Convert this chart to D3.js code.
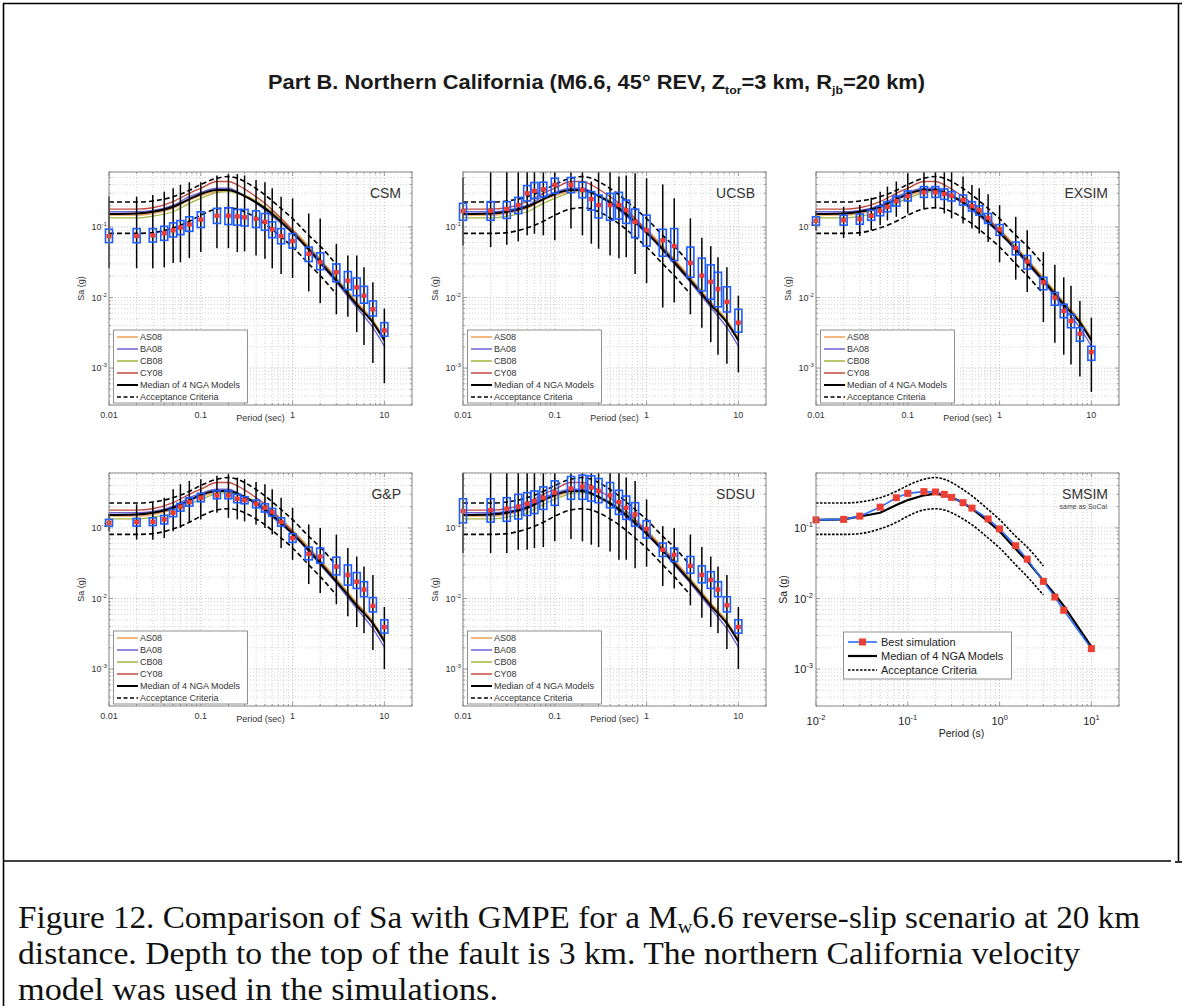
<!DOCTYPE html>
<html>
<head>
<meta charset="utf-8">
<script src="https://cdn.jsdelivr.net/npm/d3@7"></script>
<style>
  body { margin: 0; background: #fff; }
  svg { display: block; }
  text { font-family: "Liberation Sans", Arial, Helvetica, sans-serif; }
</style>
</head>
<body>
<svg id="fig" width="1182" height="1006"></svg>
<script>
// periods of the simulated boxes (s)
const periods = [0.01, 0.02, 0.03, 0.04, 0.05, 0.06, 0.075, 0.1, 0.15, 0.2, 0.25, 0.3, 0.4, 0.5, 0.6, 0.75, 1, 1.5, 2, 3, 4, 5, 6, 7.5, 10];

// each row: [whisker low, box low, median, box high, whisker high] in g
const csmStats = [
  [0.026, 0.060, 0.074, 0.093, 0.27], [0.026, 0.0597, 0.0743, 0.0947, 0.268], [0.026, 0.061, 0.076, 0.0947, 0.283],
  [0.0268, 0.0645, 0.0812, 0.102, 0.316], [0.0309, 0.072, 0.0896, 0.114, 0.353], [0.0316, 0.0777, 0.098, 0.123, 0.394],
  [0.0361, 0.0867, 0.108, 0.139, 0.43], [0.044, 0.098, 0.127, 0.164, 0.43], [0.050, 0.112, 0.144, 0.183, 0.535],
  [0.050, 0.108, 0.144, 0.187, 0.56], [0.044, 0.106, 0.141, 0.177, 0.56], [0.045, 0.103, 0.137, 0.177, 0.535],
  [0.0394, 0.098, 0.130, 0.169, 0.464], [0.0353, 0.0896, 0.118, 0.155, 0.43], [0.026, 0.0704, 0.0926, 0.118, 0.353],
  [0.0216, 0.0578, 0.0743, 0.0947, 0.268], [0.0189, 0.0501, 0.063, 0.0804, 0.254], [0.0122, 0.0323, 0.0416, 0.0518, 0.155],
  [0.0083, 0.0248, 0.0316, 0.043, 0.132], [0.00578, 0.0167, 0.0228, 0.0299, 0.0578], [0.00535, 0.0129, 0.0173, 0.0233, 0.0394],
  [0.00323, 0.0106, 0.0139, 0.0189, 0.0394], [0.00213, 0.0083, 0.0106, 0.0144, 0.0268], [0.00118, 0.00547, 0.00681, 0.00896, 0.0164],
  [0.00061, 0.00283, 0.00341, 0.0044, 0.00697]
];
const ucsbStats = [
  [0.0547, 0.124, 0.168, 0.216, 0.5], [0.0518, 0.124, 0.169, 0.228, 0.7], [0.056, 0.132, 0.179, 0.228, 0.7],
  [0.0624, 0.155, 0.204, 0.262, 0.7], [0.076, 0.233, 0.299, 0.385, 0.7], [0.080, 0.254, 0.323, 0.425, 0.7],
  [0.076, 0.268, 0.341, 0.43, 0.7], [0.0645, 0.299, 0.394, 0.49, 0.7], [0.0947, 0.306, 0.394, 0.501, 0.7],
  [0.076, 0.259, 0.334, 0.43, 0.7], [0.0578, 0.173, 0.248, 0.316, 0.44], [0.049, 0.134, 0.204, 0.283, 0.7],
  [0.0394, 0.124, 0.204, 0.299, 0.7], [0.0361, 0.129, 0.204, 0.309, 0.518], [0.0373, 0.112, 0.173, 0.240, 0.535],
  [0.0216, 0.0704, 0.118, 0.179, 0.578], [0.016, 0.0535, 0.0896, 0.147, 0.49], [0.0072, 0.0385, 0.0645, 0.0926, 0.40],
  [0.0085, 0.0334, 0.0535, 0.0947, 0.254], [0.00578, 0.0193, 0.0309, 0.0518, 0.132], [0.00373, 0.0124, 0.0204, 0.0361, 0.0704],
  [0.00233, 0.00947, 0.0167, 0.029, 0.0535], [0.00155, 0.00736, 0.0132, 0.0228, 0.0373], [0.00115, 0.00624, 0.00867, 0.0142, 0.0268],
  [0.00087, 0.00323, 0.0044, 0.00681, 0.0106]
];
const exsimStats = [
  [0.09, 0.106, 0.122, 0.139, 0.17], [0.0696, 0.106, 0.124, 0.147, 0.193], [0.0743, 0.109, 0.129, 0.152, 0.204],
  [0.0896, 0.124, 0.144, 0.173, 0.259], [0.106, 0.144, 0.169, 0.197, 0.316], [0.124, 0.164, 0.193, 0.228, 0.373],
  [0.139, 0.197, 0.233, 0.274, 0.44], [0.155, 0.233, 0.274, 0.323, 0.578], [0.183, 0.262, 0.309, 0.373, 0.7],
  [0.183, 0.262, 0.309, 0.373, 0.7], [0.155, 0.245, 0.293, 0.345, 0.7], [0.132, 0.233, 0.277, 0.316, 0.61],
  [0.112, 0.204, 0.24, 0.283, 0.518], [0.0947, 0.168, 0.197, 0.228, 0.394], [0.0804, 0.147, 0.173, 0.199, 0.353],
  [0.061, 0.112, 0.134, 0.155, 0.29], [0.0316, 0.076, 0.0926, 0.108, 0.204], [0.0179, 0.0403, 0.0501, 0.061, 0.139],
  [0.012, 0.0253, 0.0323, 0.0394, 0.0896], [0.00449, 0.0129, 0.0164, 0.0193, 0.044], [0.00228, 0.00777, 0.01, 0.0118, 0.029],
  [0.00155, 0.00518, 0.00645, 0.00803, 0.0193], [0.00112, 0.00373, 0.00464, 0.00578, 0.0147], [0.00076, 0.0024, 0.00306, 0.00373, 0.00896],
  [0.00046, 0.00129, 0.00169, 0.00204, 0.00518]
];
const gpStats = [
  [0.09, 0.106, 0.118, 0.132, 0.16], [0.0681, 0.106, 0.121, 0.136, 0.216], [0.0681, 0.108, 0.122, 0.139, 0.228],
  [0.072, 0.114, 0.132, 0.150, 0.268], [0.0896, 0.144, 0.164, 0.183, 0.353], [0.1, 0.173, 0.2, 0.223, 0.416],
  [0.118, 0.204, 0.233, 0.268, 0.464], [0.132, 0.235, 0.268, 0.309, 0.49], [0.164, 0.259, 0.29, 0.334, 0.547],
  [0.139, 0.259, 0.29, 0.334, 0.578], [0.132, 0.228, 0.259, 0.299, 0.518], [0.124, 0.22, 0.248, 0.277, 0.49],
  [0.112, 0.193, 0.22, 0.248, 0.449], [0.1, 0.168, 0.193, 0.22, 0.416], [0.0804, 0.147, 0.168, 0.189, 0.353],
  [0.0518, 0.106, 0.121, 0.139, 0.268], [0.0353, 0.0624, 0.072, 0.083, 0.193], [0.016, 0.0353, 0.043, 0.0535, 0.112],
  [0.012, 0.0316, 0.0394, 0.0518, 0.1], [0.0083, 0.0216, 0.0283, 0.0385, 0.0804], [0.0056, 0.0155, 0.0216, 0.0299, 0.0518],
  [0.00394, 0.0139, 0.0173, 0.0233, 0.0394], [0.00323, 0.0106, 0.0134, 0.0173, 0.0283], [0.00187, 0.00645, 0.00786, 0.0103, 0.0216],
  [0.001, 0.00323, 0.00394, 0.005, 0.0076]
];
const sdsuStats = [
  [0.044, 0.118, 0.173, 0.259, 0.7], [0.044, 0.121, 0.179, 0.259, 0.7], [0.044, 0.124, 0.187, 0.268, 0.7],
  [0.049, 0.134, 0.2, 0.299, 0.7], [0.049, 0.150, 0.22, 0.316, 0.7], [0.0518, 0.160, 0.24, 0.334, 0.7],
  [0.0535, 0.183, 0.268, 0.381, 0.7], [0.0645, 0.209, 0.316, 0.464, 0.7], [0.0696, 0.254, 0.361, 0.535, 0.7],
  [0.0645, 0.254, 0.385, 0.56, 0.7], [0.0578, 0.24, 0.373, 0.547, 0.7], [0.0535, 0.228, 0.334, 0.501, 0.7],
  [0.0464, 0.193, 0.29, 0.44, 0.7], [0.0353, 0.155, 0.233, 0.341, 0.7], [0.0353, 0.132, 0.193, 0.283, 0.518],
  [0.0268, 0.106, 0.155, 0.228, 0.464], [0.0283, 0.072, 0.0968, 0.127, 0.254], [0.015, 0.0394, 0.049, 0.061, 0.106],
  [0.0139, 0.0334, 0.0416, 0.0518, 0.1], [0.00803, 0.0228, 0.029, 0.0394, 0.0804], [0.00535, 0.0167, 0.0216, 0.029, 0.0535],
  [0.00394, 0.0139, 0.0183, 0.024, 0.0394], [0.00323, 0.0106, 0.0134, 0.0173, 0.0283], [0.00193, 0.00645, 0.00803, 0.0106, 0.0216],
  [0.001, 0.00323, 0.00394, 0.005, 0.0076]
];

// NGA ground motion models (g)
const ngaPeriods = [0.01, 0.02, 0.03, 0.05, 0.075, 0.1, 0.15, 0.2, 0.25, 0.3, 0.4, 0.5, 0.75, 1, 1.5, 2, 3, 4, 5, 7.5, 10];
const as08 = [0.147, 0.147, 0.155, 0.183, 0.24, 0.277, 0.316, 0.327, 0.306, 0.283, 0.235, 0.193, 0.132, 0.0926, 0.0535, 0.0353, 0.0193, 0.0124, 0.00867, 0.0048, 0.00268];
const ba08 = [0.164, 0.164, 0.171, 0.204, 0.268, 0.309, 0.353, 0.353, 0.316, 0.277, 0.216, 0.173, 0.112, 0.0804, 0.0464, 0.0299, 0.0164, 0.0103, 0.0072, 0.00373, 0.00204];
const cb08 = [0.134, 0.134, 0.142, 0.164, 0.216, 0.254, 0.306, 0.316, 0.299, 0.277, 0.233, 0.193, 0.127, 0.0896, 0.0518, 0.0341, 0.0187, 0.012, 0.0085, 0.00464, 0.00254];
const cy08 = [0.179, 0.179, 0.187, 0.228, 0.299, 0.353, 0.44, 0.44, 0.394, 0.345, 0.268, 0.216, 0.132, 0.0896, 0.0501, 0.0334, 0.0179, 0.0115, 0.0083, 0.00449, 0.00254];
const ngaMedian = [0.152, 0.155, 0.164, 0.193, 0.248, 0.293, 0.334, 0.334, 0.306, 0.274, 0.223, 0.183, 0.118, 0.083, 0.048, 0.0316, 0.0173, 0.0112, 0.00786, 0.0044, 0.00246];

// acceptance criteria (0.01 - 3 s)
const accPeriods = [0.01, 0.02, 0.03, 0.05, 0.075, 0.1, 0.15, 0.2, 0.25, 0.3, 0.4, 0.5, 0.75, 1, 1.5, 2, 3];
const accUpper = [0.225, 0.225, 0.233, 0.268, 0.33, 0.40, 0.49, 0.518, 0.49, 0.44, 0.35, 0.284, 0.183, 0.131, 0.076, 0.0535, 0.029];
const accLower = [0.081, 0.081, 0.083, 0.097, 0.12, 0.147, 0.18, 0.187, 0.18, 0.164, 0.134, 0.111, 0.072, 0.052, 0.030, 0.0204, 0.0112];

// SMSIM panel
const smsimPeriods = [0.01, 0.02, 0.03, 0.05, 0.075, 0.1, 0.15, 0.2, 0.25, 0.3, 0.4, 0.5, 0.75, 1, 1.5, 2, 3, 4, 5, 10];
const smsimBest = [0.130, 0.132, 0.147, 0.197, 0.268, 0.309, 0.327, 0.323, 0.299, 0.271, 0.228, 0.191, 0.134, 0.0968, 0.056, 0.0361, 0.0175, 0.0105, 0.00681, 0.00195];
const smsimMedian = [0.130, 0.132, 0.145, 0.164, 0.211, 0.248, 0.29, 0.306, 0.29, 0.271, 0.228, 0.187, 0.124, 0.0896, 0.0501, 0.0341, 0.0179, 0.0114, 0.00786, 0.00208];

const xTickLabels = ['0.01', '0.1', '1', '10'];
const yTickExps = ['-1', '-2', '-3'];
const smsimXExps = ['-2', '-1', '0', '1'];

const ngaSeries = [
  { name: 'AS08', values: as08, color: '#f0a055', width: 1.3 },
  { name: 'BA08', values: ba08, color: '#6b63d6', width: 1.3 },
  { name: 'CB08', values: cb08, color: '#a4b43c', width: 1.3 },
  { name: 'CY08', values: cy08, color: '#c24a40', width: 1.3 }
];

const panels = [
  { name: 'CSM', stats: csmStats, col: 0, row: 0 },
  { name: 'UCSB', stats: ucsbStats, col: 1, row: 0 },
  { name: 'EXSIM', stats: exsimStats, col: 2, row: 0 },
  { name: 'G&P', stats: gpStats, col: 0, row: 1 },
  { name: 'SDSU', stats: sdsuStats, col: 1, row: 1 },
  { name: 'SMSIM', col: 2, row: 1, best: true }
];

const colX = [109, 463, 816];
const rowY = [172, 473];
const W = 303, H = 233;

const svg = d3.select('#fig');

// page frame
const frame = svg.append('g').attr('stroke', '#000').attr('stroke-width', 1.6).attr('fill', 'none');
frame.append('line').attr('x1', 3).attr('y1', 3.5).attr('x2', 1182).attr('y2', 3.5);
frame.append('line').attr('x1', 3.5).attr('y1', 3).attr('x2', 3.5).attr('y2', 1006);
frame.append('line').attr('x1', 1178.5).attr('y1', 3).attr('x2', 1178.5).attr('y2', 861);
frame.append('line').attr('x1', 3).attr('y1', 861).attr('x2', 1171).attr('y2', 861);
frame.append('line').attr('x1', 1175).attr('y1', 862).attr('x2', 1182).attr('y2', 862);

// title
const title = svg.append('text').attr('x', 268).attr('y', 89)
  .attr('font-size', 19.5).attr('font-weight', 'bold').attr('fill', '#1a1a1a')
  .attr('textLength', 657).attr('lengthAdjust', 'spacingAndGlyphs');
title.append('tspan').text('Part B. Northern California (M6.6, 45\u00b0 REV, Z');
title.append('tspan').attr('font-size', 11).attr('dy', 5).text('tor');
title.append('tspan').attr('dy', -5).text('=3 km, R');
title.append('tspan').attr('font-size', 11).attr('dy', 5).text('jb');
title.append('tspan').attr('dy', -5).text('=20 km)');

function supLabel(sel, base, exp, size) {
  sel.append('tspan').text(base);
  sel.append('tspan').attr('font-size', size * 0.68).attr('dy', -size * 0.42).text(exp);
}

panels.forEach((p, pi) => {
  const L = colX[p.col], T = rowY[p.row], B = T + H;
  const x = d3.scaleLog().domain([0.01, 20]).range([L, L + W]);
  const y = d3.scaleLog().domain([3e-4, 0.6]).range([B, T]);
  const g = svg.append('g');

  const clipId = 'clip' + pi;
  g.append('clipPath').attr('id', clipId)
    .append('rect').attr('x', L - 10).attr('y', T).attr('width', W + 20).attr('height', H);

  // grid
  const grid = g.append('g').attr('fill', 'none');
  x.ticks().forEach(t => {
    const major = Math.abs(Math.log10(t) - Math.round(Math.log10(t))) < 1e-6;
    grid.append('line').attr('x1', x(t)).attr('x2', x(t)).attr('y1', T).attr('y2', B)
      .attr('stroke', major ? '#b0b0b0' : '#c8c8c8').attr('stroke-width', 0.8).attr('stroke-dasharray', '1,2');
  });
  y.ticks().forEach(t => {
    const major = Math.abs(Math.log10(t) - Math.round(Math.log10(t))) < 1e-6;
    grid.append('line').attr('x1', L).attr('x2', L + W).attr('y1', y(t)).attr('y2', y(t))
      .attr('stroke', major ? '#b0b0b0' : '#c8c8c8').attr('stroke-width', 0.8).attr('stroke-dasharray', '1,2');
  });

  // ticks on all four sides
  const tk = g.append('g').attr('stroke', '#888').attr('stroke-width', 0.8);
  x.ticks().forEach(t => {
    const major = Math.abs(Math.log10(t) - Math.round(Math.log10(t))) < 1e-6;
    const len = major ? 4 : 2;
    tk.append('line').attr('x1', x(t)).attr('x2', x(t)).attr('y1', B).attr('y2', B - len);
    tk.append('line').attr('x1', x(t)).attr('x2', x(t)).attr('y1', T).attr('y2', T + len);
  });
  y.ticks().forEach(t => {
    const major = Math.abs(Math.log10(t) - Math.round(Math.log10(t))) < 1e-6;
    const len = major ? 4 : 2;
    tk.append('line').attr('x1', L).attr('x2', L + len).attr('y1', y(t)).attr('y2', y(t));
    tk.append('line').attr('x1', L + W).attr('x2', L + W - len).attr('y1', y(t)).attr('y2', y(t));
  });

  const plot = g.append('g').attr('clip-path', `url(#${clipId})`);
  const smooth = d3.line().x(d => x(d[0])).y(d => y(d[1])).curve(d3.curveMonotoneX);
  const straight = d3.line().x(d => x(d[0])).y(d => y(d[1]));

  const accUp = accPeriods.map((t, i) => [t, accUpper[i]]);
  const accLo = accPeriods.map((t, i) => [t, accLower[i]]);

  if (!p.best) {
    ngaSeries.forEach(s => {
      plot.append('path').attr('d', smooth(ngaPeriods.map((t, i) => [t, s.values[i]])))
        .attr('fill', 'none').attr('stroke', s.color).attr('stroke-width', s.width);
    });
    plot.append('path').attr('d', smooth(ngaPeriods.map((t, i) => [t, ngaMedian[i]])))
      .attr('fill', 'none').attr('stroke', '#000').attr('stroke-width', 2);
    [accUp, accLo].forEach(a => plot.append('path').attr('d', smooth(a))
      .attr('fill', 'none').attr('stroke', '#000').attr('stroke-width', 1.6).attr('stroke-dasharray', '5,3'));

    // whiskers, boxes, medians
    const rows = periods.map((t, i) => ({ t, s: p.stats[i] }));
    plot.selectAll('line.wh').data(rows).enter().append('line').attr('class', 'wh')
      .attr('x1', d => x(d.t)).attr('x2', d => x(d.t))
      .attr('y1', d => y(d.s[0])).attr('y2', d => y(d.s[4]))
      .attr('stroke', '#000').attr('stroke-width', 1.5);
    plot.selectAll('rect.bx').data(rows).enter().append('rect').attr('class', 'bx')
      .attr('x', d => x(d.t) - 3.5).attr('width', 7)
      .attr('y', d => y(d.s[3])).attr('height', d => y(d.s[1]) - y(d.s[3]))
      .attr('fill', 'none').attr('stroke', '#1d5cff').attr('stroke-width', 1.6);
    plot.selectAll('rect.md').data(rows).enter().append('rect').attr('class', 'md')
      .attr('x', d => x(d.t) - 2.5).attr('width', 5)
      .attr('y', d => y(d.s[2]) - 2.2).attr('height', 4.4)
      .attr('fill', '#f03a2e');
  } else {
    [accUp, accLo].forEach(a => plot.append('path').attr('d', smooth(a))
      .attr('fill', 'none').attr('stroke', '#000').attr('stroke-width', 1.6).attr('stroke-dasharray', '2.5,1.5'));
    plot.append('path').attr('d', straight(smsimPeriods.map((t, i) => [t, smsimMedian[i]])))
      .attr('fill', 'none').attr('stroke', '#000').attr('stroke-width', 2.2);
    plot.append('path').attr('d', straight(smsimPeriods.map((t, i) => [t, smsimBest[i]])))
      .attr('fill', 'none').attr('stroke', '#2a6dff').attr('stroke-width', 1.6);
    plot.selectAll('rect.pt').data(smsimPeriods.map((t, i) => [t, smsimBest[i]])).enter().append('rect')
      .attr('x', d => x(d[0]) - 3.5).attr('y', d => y(d[1]) - 3.5).attr('width', 7).attr('height', 7)
      .attr('fill', '#ec4034');
  }

  // axes frame
  g.append('rect').attr('x', L).attr('y', T).attr('width', W).attr('height', H)
    .attr('fill', 'none').attr('stroke', '#8a8a8a').attr('stroke-width', 1);

  // tick labels
  if (!p.best) {
    [0.01, 0.1, 1, 10].forEach((t, i) => {
      g.append('text').attr('x', x(t)).attr('y', B + 13).attr('text-anchor', 'middle')
        .attr('font-size', 9).attr('fill', '#333').text(xTickLabels[i]);
    });
    [0.1, 0.01, 0.001].forEach((t, i) => {
      const tx = g.append('text').attr('x', L - 2).attr('y', y(t) + 3).attr('text-anchor', 'end')
        .attr('font-size', 9).attr('fill', '#333');
      supLabel(tx, '10', yTickExps[i], 9);
    });
    g.append('text').attr('x', L + W / 2).attr('y', B + 16).attr('text-anchor', 'middle')
      .attr('font-size', 9).attr('fill', '#333').text('Period (sec)');
    g.append('text').attr('transform', `translate(${L - 25},${T + H / 2}) rotate(-90)`)
      .attr('text-anchor', 'middle').attr('font-size', 9).attr('fill', '#333').text('Sa (g)');
  } else {
    [0.01, 0.1, 1, 10].forEach((t, i) => {
      const tx = g.append('text').attr('x', x(t)).attr('y', B + 19).attr('text-anchor', 'middle')
        .attr('font-size', 11).attr('fill', '#222');
      supLabel(tx, '10', smsimXExps[i], 11);
    });
    [0.1, 0.01, 0.001].forEach((t, i) => {
      const tx = g.append('text').attr('x', L - 3).attr('y', y(t) + 4).attr('text-anchor', 'end')
        .attr('font-size', 11).attr('fill', '#222');
      supLabel(tx, '10', yTickExps[i], 11);
    });
    g.append('text').attr('x', L + W / 2 - 6).attr('y', B + 31).attr('text-anchor', 'middle')
      .attr('font-size', 10.5).attr('fill', '#222').text('Period (s)');
    g.append('text').attr('transform', `translate(${L - 29},${T + H / 2}) rotate(-90)`)
      .attr('text-anchor', 'middle').attr('font-size', 10.5).attr('fill', '#222').text('Sa (g)');
  }

  // panel name
  g.append('text').attr('x', L + W - 11).attr('y', T + 26).attr('text-anchor', 'end')
    .attr('font-size', 14).attr('fill', '#333').text(p.name);
  if (p.best) {
    g.append('text').attr('x', L + W - 12).attr('y', T + 36).attr('text-anchor', 'end')
      .attr('font-size', 7).attr('fill', '#444').text('same as SoCal');
  }

  // legend
  if (!p.best) {
    const lg = g.append('g');
    lg.append('rect').attr('x', L + 4.5).attr('y', B - 75).attr('width', 134).attr('height', 73)
      .attr('fill', '#fff').attr('stroke', '#777').attr('stroke-width', 0.8);
    const items = ngaSeries.map(s => ({ name: s.name, color: s.color, w: 1.5, dash: null }))
      .concat([{ name: 'Median of 4 NGA Models', color: '#000', w: 2, dash: null },
               { name: 'Acceptance Criteria', color: '#000', w: 1.6, dash: '4,2.5' }]);
    items.forEach((it, i) => {
      const yy = B - 68 + 12 * i;
      lg.append('line').attr('x1', L + 8).attr('x2', L + 29).attr('y1', yy).attr('y2', yy)
        .attr('stroke', it.color).attr('stroke-width', it.w).attr('stroke-dasharray', it.dash);
      lg.append('text').attr('x', L + 31).attr('y', yy + 3).attr('font-size', 9).attr('fill', '#333').text(it.name);
    });
  } else {
    const lg = g.append('g');
    lg.append('rect').attr('x', L + 27.5).attr('y', B - 74).attr('width', 168).attr('height', 47)
      .attr('fill', '#fff').attr('stroke', '#777').attr('stroke-width', 0.8);
    const items = [
      { name: 'Best simulation', color: '#2a6dff', w: 1.6, dash: null, mark: true },
      { name: 'Median of 4 NGA Models', color: '#000', w: 2.2, dash: null },
      { name: 'Acceptance Criteria', color: '#000', w: 1.6, dash: '2.5,1.5' }
    ];
    items.forEach((it, i) => {
      const yy = B - 64 + 14 * i;
      lg.append('line').attr('x1', L + 32).attr('x2', L + 61).attr('y1', yy).attr('y2', yy)
        .attr('stroke', it.color).attr('stroke-width', it.w).attr('stroke-dasharray', it.dash);
      if (it.mark) lg.append('rect').attr('x', L + 43).attr('y', yy - 3.5).attr('width', 7).attr('height', 7).attr('fill', '#ec4034');
      lg.append('text').attr('x', L + 65).attr('y', yy + 4).attr('font-size', 11).attr('fill', '#222').text(it.name);
    });
  }
});

// caption
const capLines = [
  { y: 928, len: 1122 },
  { y: 964, len: 1062 },
  { y: 1000, len: 480 }
];
const capFont = '"Liberation Serif", "Times New Roman", serif';
const cap = svg.append('g').attr('font-size', 31).attr('fill', '#111');
const c1 = cap.append('text').attr('x', 18).attr('y', capLines[0].y)
  .style('font-family', capFont)
  .attr('textLength', capLines[0].len).attr('lengthAdjust', 'spacingAndGlyphs');
c1.append('tspan').text('Figure 12. Comparison of Sa with GMPE for a M');
c1.append('tspan').attr('font-size', 19).attr('dy', 5).text('w');
c1.append('tspan').attr('dy', -5).text('6.6 reverse-slip scenario at 20 km');
cap.append('text').attr('x', 18).attr('y', capLines[1].y)
  .style('font-family', capFont)
  .attr('textLength', capLines[1].len).attr('lengthAdjust', 'spacingAndGlyphs')
  .text('distance. Depth to the top of the fault is 3 km. The northern California velocity');
cap.append('text').attr('x', 18).attr('y', capLines[2].y)
  .style('font-family', capFont)
  .attr('textLength', capLines[2].len).attr('lengthAdjust', 'spacingAndGlyphs')
  .text('model was used in the simulations.');
</script>
</body>
</html>
